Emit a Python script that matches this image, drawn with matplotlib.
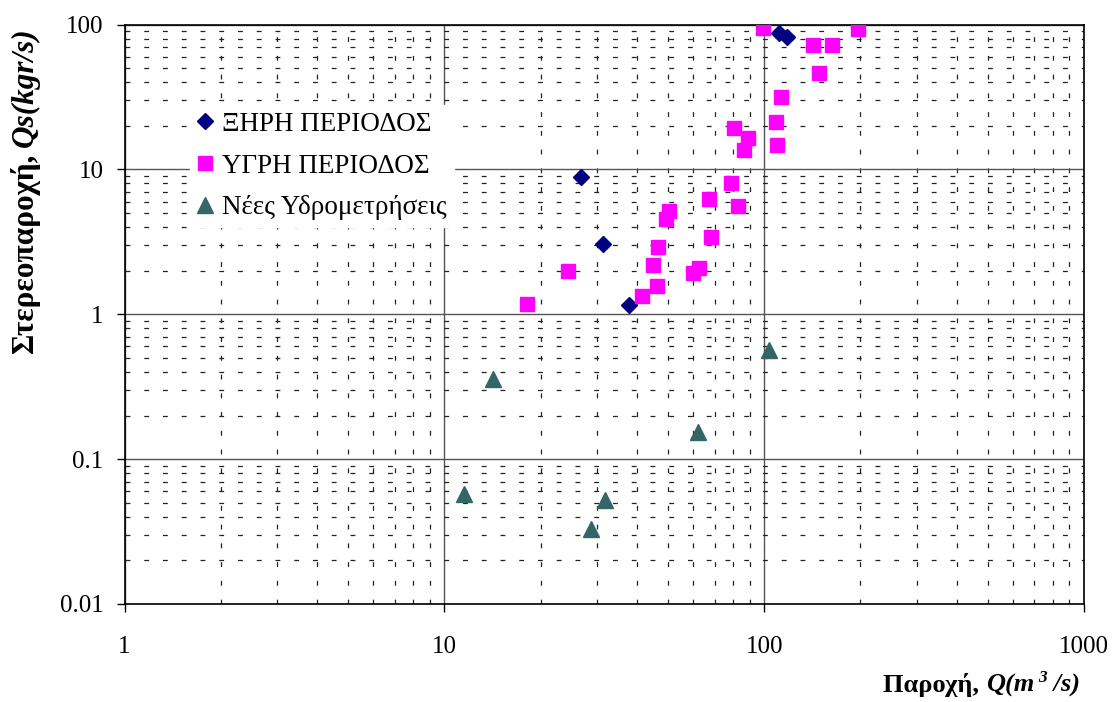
import numpy as np
import matplotlib
matplotlib.use("Agg")
import matplotlib.pyplot as plt
from matplotlib.ticker import LogLocator, FixedLocator, FuncFormatter

plt.rcParams['font.family'] = ['Liberation Serif', 'DejaVu Serif']
plt.rcParams['lines.scale_dashes'] = False

# ΞΗΡΗ ΠΕΡΙΟΔΟΣ
dry_q = [26.7, 31.3, 37.7, 111.0, 118.2]
dry_qs = [8.92, 3.06, 1.16, 87.4, 82.4]

# ΥΓΡΗ ΠΕΡΙΟΔΟΣ
wet_q = [18.1, 24.4, 41.5, 44.9, 46.3, 46.7, 49.5, 50.4, 59.7, 62.4, 67.2, 68.0,
         78.9, 80.4, 83.0, 86.5, 89.2, 99.4, 108.9, 109.7, 113.2, 141.8, 148.1,
         162.7, 196.6]
wet_qs = [1.18, 2.00, 1.34, 2.18, 1.57, 2.91, 4.54, 5.20, 1.92, 2.10, 6.29, 3.41,
          8.07, 19.3, 5.60, 13.5, 16.5, 95.0, 21.3, 14.8, 31.6, 72.2, 46.5,
          72.2, 93.1]

# Νέες Υδρομετρήσεις
new_q = [11.5, 14.2, 28.7, 31.7, 61.9, 103.8]
new_qs = [0.0575, 0.355, 0.0332, 0.0526, 0.154, 0.569]

series_labels = ["ΞΗΡΗ ΠΕΡΙΟΔΟΣ", "ΥΓΡΗ ΠΕΡΙΟΔΟΣ", "Νέες Υδρομετρήσεις"]
x_ticks = [1, 10, 100, 1000]
y_ticks = [0.01, 0.1, 1, 10, 100]

W, H = 1114, 702
fig = plt.figure(figsize=(W / 100, H / 100), dpi=100)
ax = fig.add_axes([124.5 / W, 1 - 604 / H, (1084 - 124.5) / W, (604 - 24.5) / H])

ax.plot(dry_q, dry_qs, linestyle='none', marker='D', ms=8, color='#000080',
        mec='#000080', label=series_labels[0], zorder=3)
ax.plot(wet_q, wet_qs, linestyle='none', marker='s', ms=9.5, color='#ff00ff',
        mec='#ff00ff', label=series_labels[1], zorder=3)
ax.plot(new_q, new_qs, linestyle='none', marker='^', ms=11.5, color='#336666',
        mec='#336666', label=series_labels[2], zorder=3)

ax.set_xscale('log')
ax.set_yscale('log')
ax.set_xlim(1, 1000)
ax.set_ylim(0.01, 100)

fmt = FuncFormatter(lambda v, p: '%g' % v)
ax.xaxis.set_major_locator(FixedLocator(x_ticks))
ax.yaxis.set_major_locator(FixedLocator(y_ticks))
ax.xaxis.set_major_formatter(fmt)
ax.yaxis.set_major_formatter(fmt)
ax.xaxis.set_minor_locator(LogLocator(base=10, subs=np.arange(2, 10)))
ax.yaxis.set_minor_locator(LogLocator(base=10, subs=np.arange(2, 10)))

ax.tick_params(axis='y', which='major', direction='out', length=6, width=1,
               labelsize=18, pad=9)
ax.tick_params(axis='x', which='major', direction='out', length=6, width=1,
               labelsize=18, pad=17)
ax.tick_params(which='minor', length=0)

ax.grid(which='major', color='#555555', linewidth=1, linestyle='-')
ax.grid(which='minor', color='#222222', linewidth=0.9, linestyle=(0, (3.5, 10)))
ax.set_axisbelow(True)
for s in ax.spines.values():
    s.set_color('black')
    s.set_linewidth(1.2)

leg = ax.legend(loc='upper left', bbox_to_anchor=(190 / W, 1 - 105 / H),
                bbox_transform=fig.transFigure, frameon=True, fancybox=False,
                fontsize=19.5, borderaxespad=0, borderpad=0.25,
                handlelength=0.6, handletextpad=0.35, labelspacing=0.62)
leg.get_frame().set_facecolor('white')
leg.get_frame().set_edgecolor('white')
leg.get_frame().set_alpha(1)

# y axis title: bold, with the symbol part in bold italic
y1 = fig.text(11 / W, 1 - 354 / H, "Στερεοπαροχή, ", rotation=90, fontsize=22.5,
              fontweight='bold', ha='left', va='bottom')
ax.annotate("Qs(kgr/s)", xy=(0, 1), xycoords=y1, rotation=90, fontsize=22.5,
            fontweight='bold', fontstyle='italic', ha='left', va='bottom',
            annotation_clip=False)

# x axis title with superscript exponent
x1 = fig.text(883 / W, 1 - 692 / H, "Παροχή, ", fontsize=19, fontweight='bold',
              ha='left', va='baseline')
x2 = ax.annotate("Q(m", xy=(1, 0), xycoords=x1, fontsize=19, fontweight='bold',
                 fontstyle='italic', ha='left', va='bottom', annotation_clip=False)
x3 = ax.annotate("3", xy=(1, 0), xycoords=x2, xytext=(3, 8),
                 textcoords='offset points', fontsize=12.5, fontweight='bold',
                 fontstyle='italic', ha='left', va='bottom', annotation_clip=False)
ax.annotate(" /s)", xy=(1, 0), xycoords=(x3, x2), fontsize=19, fontweight='bold',
            fontstyle='italic', ha='left', va='bottom', annotation_clip=False)

fig.savefig('out.png', dpi=100)
